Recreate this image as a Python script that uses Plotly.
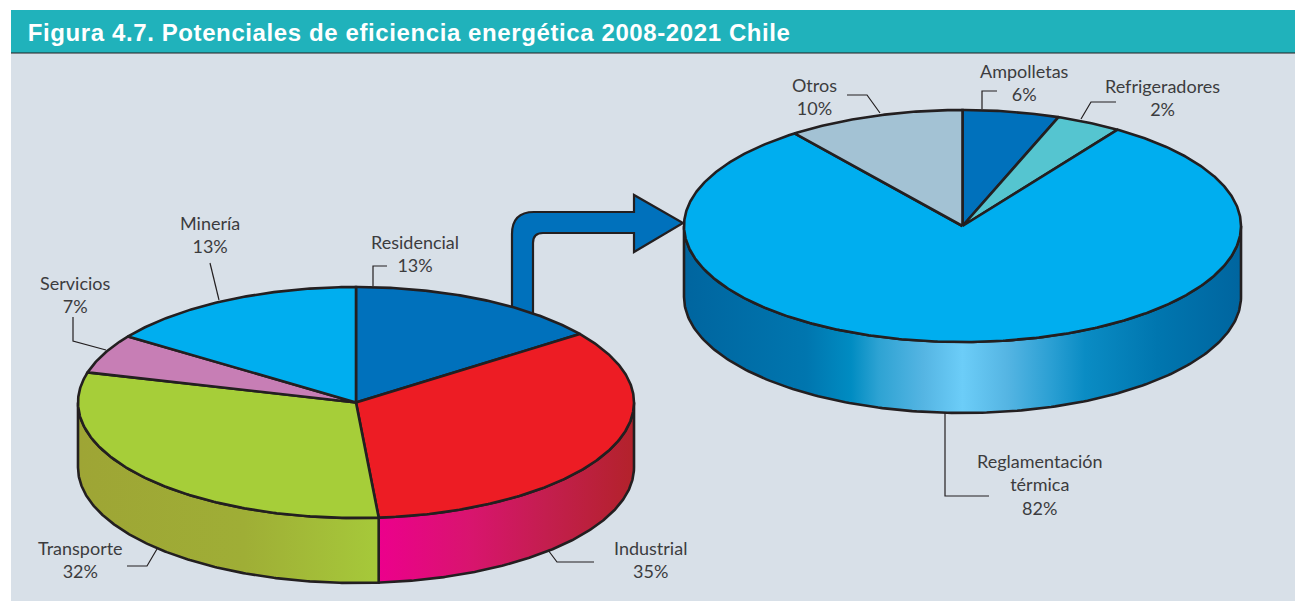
import numpy as np
import plotly.graph_objects as go

TITLE = "Figura 4.7. Potenciales de eficiencia energética 2008-2021 Chile"

# Left pie. Slice shares as measured on the picture; printed labels as printed.
left_names = ["Residencial", "Industrial", "Transporte", "Servicios", "Minería"]
left_shares = [14.9, 33.8, 30.5, 5.5, 15.3]
left_printed = ["13%", "35%", "32%", "7%", "13%"]
left_colors = ["#0071bc", "#ed1c24", "#a6ce39", "#c77eb5", "#00aeef"]

# Right pie
right_names = ["Ampolletas", "Refrigeradores", "Reglamentación<br>térmica", "Otros"]
right_shares = [5.6, 3.8, 80.3, 10.3]
right_printed = ["6%", "2%", "82%", "10%"]
right_colors = ["#0071bc", "#55c5d0", "#00aeef", "#a3c2d4"]

side_scales = {
    "Industrial": [[0, "#ec008c"], [0.35, "#d9146f"], [0.65, "#c41e4f"], [1, "#b3222b"]],
    "Transporte": [[0, "#9ea535"], [0.55, "#9fae36"], [1, "#a6c93a"]],
    "Reglamentación<br>térmica": [[0, "#00659f"], [0.22, "#0076af"], [0.30, "#008cc2"],
                                  [0.35, "#2ea3d3"], [0.43, "#55b5e3"], [0.5, "#6ccdf8"],
                                  [0.58, "#55b5e3"], [0.66, "#2a9fd3"], [0.72, "#0a8cc4"],
                                  [0.85, "#0076af"], [1, "#00659f"]],
}

INK = "#231f20"
LABEL = "#3c3c3e"
BG = "#d8e0e8"
TEAL = "#20b2bb"

fig = go.Figure()


def top_xy(cx, cy, rx, ry, deg):
    a = np.radians(deg)
    return cx + rx * np.sin(a), cy - ry * np.cos(a)


def add_pie(names, shares, colors, cx, cy, rx, ry, depth):
    total = sum(shares)
    edges = np.concatenate([[0], np.cumsum(shares)]) / total * 360
    # side walls
    for name, col, a0, a1 in zip(names, colors, edges[:-1], edges[1:]):
        lo, hi = max(a0, 90), min(a1, 270)
        if lo >= hi:
            continue
        t = np.linspace(lo, hi, 200)
        xt, yt = top_xy(cx, cy, rx, ry, t)
        xs = np.concatenate([xt, xt[::-1], xt[:1]])
        ys = np.concatenate([yt, yt[::-1] + depth, yt[:1]])
        fig.add_trace(go.Scatter(
            x=xs, y=ys, mode="lines", fill="toself",
            fillgradient=dict(type="horizontal", colorscale=side_scales[name]),
            line=dict(color=INK, width=2.6), hoverinfo="skip", showlegend=False))
    # top faces
    for name, col, a0, a1 in zip(names, colors, edges[:-1], edges[1:]):
        t = np.linspace(a0, a1, max(int(a1 - a0) * 2, 12))
        xt, yt = top_xy(cx, cy, rx, ry, t)
        xs = np.concatenate([[cx], xt, [cx]])
        ys = np.concatenate([[cy], yt, [cy]])
        fig.add_trace(go.Scatter(
            x=xs, y=ys, mode="lines", fill="toself", fillcolor=col,
            line=dict(color=INK, width=2.6), name=name, hoverinfo="skip", showlegend=False))


add_pie(left_names, left_shares, left_colors, 356, 402.5, 278, 115.5, 65)
add_pie(right_names, right_shares, right_colors, 962.5, 226, 278.5, 116, 71)

# Leader lines
leaders = [
    [(373, 286), (373, 266), (387, 266)],
    [(219, 300), (210, 263)],
    [(73, 317), (73, 341), (106, 350)],
    [(880, 113), (867, 95), (847, 95)],
    [(982, 109), (982, 91), (997, 91)],
    [(1081, 119), (1091, 102), (1116, 102)],
    [(945, 413), (945, 496), (989, 496)],
    [(157, 549), (147, 566), (127, 566)],
    [(548, 550), (557, 562), (594, 562)],
]
for pts in leaders:
    fig.add_trace(go.Scatter(x=[p[0] for p in pts], y=[p[1] for p in pts], mode="lines",
                             line=dict(color=INK, width=1.2), hoverinfo="skip", showlegend=False))

# Label anchors (pixels), same order as the name lists
left_pos = [(415, 253.5), (650, 559.5), (80, 559.5), (75, 294.5), (210, 234)]
right_pos = [(1024, 82.5), (1162, 97.5), (1040, 484), (814, 96.5)]
for names, printed, pos in ((left_names, left_printed, left_pos),
                            (right_names, right_printed, right_pos)):
    for n, p, (x, y) in zip(names, printed, pos):
        fig.add_annotation(x=x, y=y, text=f"{n}<br>{p}", showarrow=False, xref="x", yref="y",
                           xanchor="center", yanchor="middle", align="center",
                           font=dict(family="Lato", size=18, color=LABEL))

fig.add_annotation(x=409, y=32, text=f"<b>{TITLE}</b>", showarrow=False, xanchor="center",
                   yanchor="middle", name="title",
                   font=dict(family="Liberation Sans", size=24, color="white"))

shapes = [
    dict(type="rect", x0=11, x1=1295, y0=53, y1=601, fillcolor=BG, line_width=0, layer="below"),
    dict(type="rect", x0=11, x1=1295, y0=10, y1=53, fillcolor=TEAL, line_width=0, layer="below"),
    dict(type="line", x0=11, x1=1295, y0=53, y1=53, line=dict(color=INK, width=1.2), layer="below"),
    dict(type="path", layer="below", fillcolor="#0071bc", line=dict(color=INK, width=2.2),
         path="M 512 320 L 512 234 Q 512 212 534 212 L 634 212 L 634 195 L 683 223 L 634 252 "
              "L 634 233 L 543 233 Q 533 233 533 243 L 533 320 Z"),
]

fig.update_layout(
    width=1295, height=601, margin=dict(l=0, r=0, t=0, b=0),
    paper_bgcolor="white", plot_bgcolor="white", shapes=shapes, showlegend=False,
    xaxis=dict(range=[0, 1295], visible=False, fixedrange=True),
    yaxis=dict(range=[601, 0], visible=False, fixedrange=True),
)

post = """
document.body.style.margin='0';
document.querySelectorAll('.annotation-text').forEach(function(t){
  if (t.textContent.indexOf('Figura') === 0) { t.style.letterSpacing = '0.6px'; }
});
"""
fig.write_html("out.html", config={"displayModeBar": False}, post_script=post)
